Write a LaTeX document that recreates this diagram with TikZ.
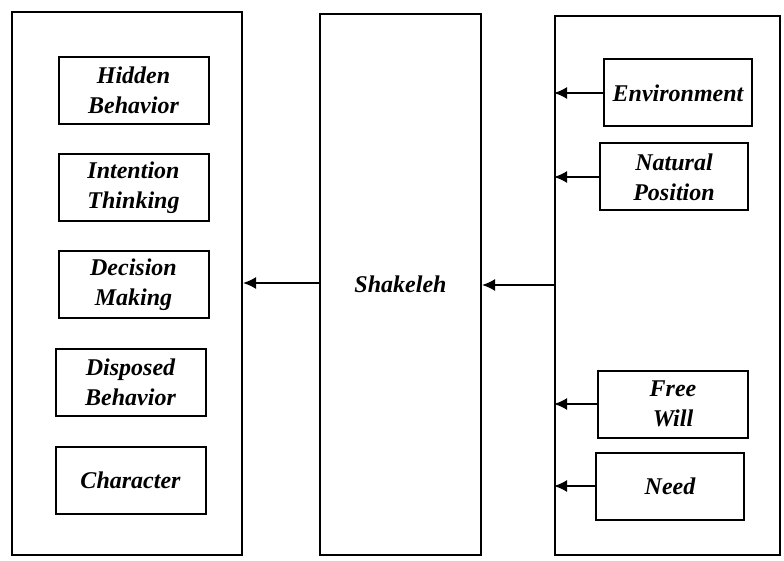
\documentclass[tikz,border=0pt]{standalone}
\usepackage{fontspec}
\setmainfont{Liberation Serif}
\usetikzlibrary{arrows.meta}

\tikzset{
  outerbox/.style={draw, line width=2pt, inner sep=0pt},
  itembox/.style={draw, line width=2pt, align=center, inner sep=0pt,
    minimum width=150pt, minimum height=67pt,
    font=\fontsize{24}{30}\selectfont\bfseries\itshape},
  flowarrow/.style={line width=1.8pt, -{Latex[length=13pt,width=12pt]}}
}

\begin{document}
\begin{tikzpicture}[x=1pt, y=-1pt]
  \useasboundingbox (0,0) rectangle (784,561);

  % three columns
  \node[outerbox, minimum width=230pt, minimum height=543pt] (effects) at (127,283.5) {};
  \node[outerbox, minimum width=161pt, minimum height=541pt,
        font=\fontsize{24}{30}\selectfont\bfseries\itshape] (shakeleh) at (400.5,284.5) {Shakeleh};
  \node[outerbox, minimum width=225pt, minimum height=539pt] (causes) at (667.5,285.5) {};

  % left column
  \node[itembox] (hidden) at (133.5,90.5) {Hidden\\Behavior};
  \node[itembox] (intent) at (133.5,187.5) {Intention\\Thinking};
  \node[itembox] (decision) at (133.5,284.5) {Decision\\Making};
  \node[itembox] (disposed) at (130.5,382.5) {Disposed\\Behavior};
  \node[itembox] (character) at (130.5,480) {Character};

  % right column
  \node[itembox, minimum width=148pt] (environ) at (678,93) {Environment};
  \node[itembox, minimum width=148pt] (natural) at (674,177) {Natural\\Position};
  \node[itembox] (freewill) at (673,404) {Free\\Will};
  \node[itembox, minimum width=148pt] (need) at (670,486) {Need};

  % arrows
  \draw[flowarrow] (shakeleh.west |- 0,283) -- (effects.east |- 0,283);
  \draw[flowarrow] (causes.west |- 0,285) -- (shakeleh.east |- 0,285);
  \foreach \src in {environ, natural, freewill, need}
    \draw[flowarrow] (\src.west) -- (\src.west -| causes.west);
\end{tikzpicture}
\end{document}
